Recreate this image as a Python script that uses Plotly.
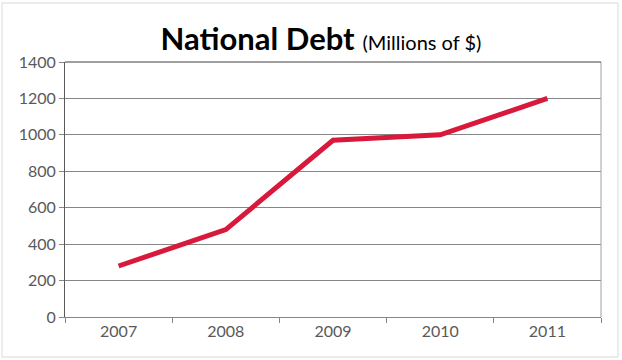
import plotly.graph_objects as go

years = ["2007", "2008", "2009", "2010", "2011"]
debt = [280, 480, 970, 1000, 1200]
y_ticks = [0, 200, 400, 600, 800, 1000, 1200, 1400]

W, H = 622, 360
L, R, T, B = 65, 21, 62, 43
pw, ph = W - L - R, H - T - B

fig = go.Figure()
fig.add_trace(go.Scatter(
    x=years, y=debt, mode="lines",
    line=dict(color="#d8193c", width=5),
    hoverinfo="x+y",
))

font = "Lato, sans-serif"
fig.update_layout(
    width=W, height=H,
    margin=dict(l=L, r=R, t=T, b=B),
    paper_bgcolor="white", plot_bgcolor="white",
    showlegend=False,
    title=dict(
        text="<b>National Debt</b> <span style='font-size:20px'>(Millions of $)</span>",
        x=321 / W, xanchor="center", y=1 - 50 / H, yanchor="bottom",
        font=dict(family="Lato, sans-serif", size=31, color="black"),
    ),
    xaxis=dict(
        type="category", range=[-0.5, 4.5], tickson="boundaries",
        ticks="outside", ticklen=5, automargin=False,
        tickcolor="#868686", showgrid=False, showline=True, linecolor="#868686",
        linewidth=1, mirror=False,
        tickfont=dict(family=font, size=16, color="#595959"),
    ),
    yaxis=dict(
        range=[0, 1400], tickvals=y_ticks, ticks="outside", ticklen=5,
        automargin=False,
        tickcolor="#868686", showgrid=True, gridcolor="#868686", gridwidth=1,
        showline=True, linecolor="#5a5a5a", linewidth=1, zeroline=False,
        tickfont=dict(family=font, size=16, color="#595959"),
    ),
    shapes=[
        dict(type="line", xref="paper", yref="paper", x0=1, x1=1, y0=0, y1=1,
             line=dict(color="#a0a0a0", width=1)),
        dict(type="line", xref="paper", yref="paper", x0=0, x1=1, y0=1, y1=1,
             line=dict(color="#404040", width=1)),
        dict(type="rect", xref="paper", yref="paper",
             x0=(2 - L) / pw, x1=(618 - L) / pw,
             y0=(T + ph - 357) / ph, y1=(T + ph - 3) / ph,
             line=dict(color="#d9d9d9", width=1), layer="below"),
    ],
)

fig.write_html("out.html", config={"displayModeBar": False},
               post_script="document.body.style.margin='0';")
